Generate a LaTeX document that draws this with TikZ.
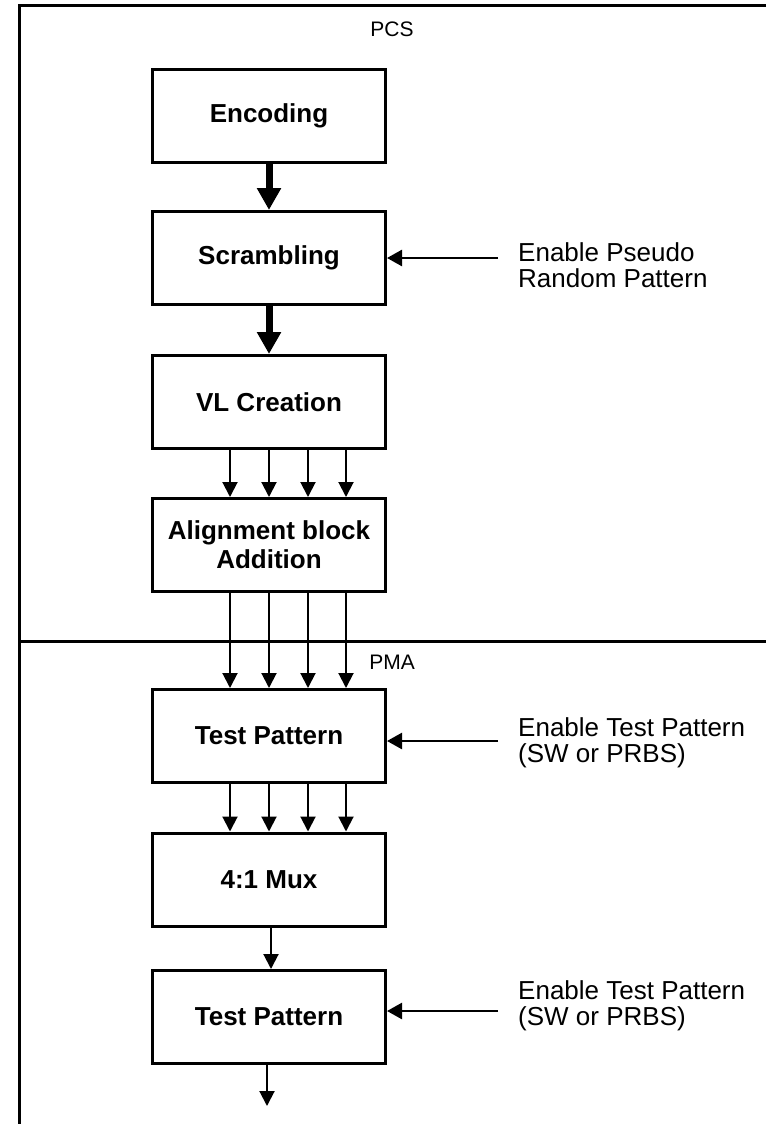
\documentclass[tikz,border=0pt]{standalone}
\usepackage{fontspec}
\setmainfont{Liberation Sans}
\usetikzlibrary{arrows.meta}
\tikzset{
  blk/.style={draw, line width=3pt, minimum width=233pt, minimum height=93pt, inner sep=0pt, align=center, font=\fontsize{26}{29}\selectfont\bfseries},
  sidelbl/.style={anchor=west, inner sep=0pt, align=left, font=\fontsize{26}{26}\selectfont},
  seclbl/.style={inner sep=0pt, font=\fontsize{21}{21}\selectfont},
  frameline/.style={line width=3pt},
  thickarr/.style={line width=7pt, -{Triangle[width=23pt,length=22pt]}},
  thinarr/.style={line width=2pt, -{Triangle[width=15pt,length=15pt]}},
  sidearr/.style={line width=2.5pt, -{Triangle[width=16pt,length=15pt]}}
}
\begin{document}
\begin{tikzpicture}[x=1pt,y=-1pt]
\useasboundingbox (0,0) rectangle (766,1124);
% frame
\coordinate (ftl) at (19,6);
\coordinate (ftr) at (766,6);
\coordinate (fbl) at (19,1124);
\coordinate (dl) at (19,641);
\coordinate (dr) at (766,641);
\draw[frameline] (ftr) -- (ftl) -- (fbl);
\draw[frameline] (dl) -- (dr);
\node[seclbl] (pcs) at (392,29) {PCS};
\node[seclbl] (pma) at (392,662) {PMA};
% blocks
\node[blk] (enc) at (269,116) {Encoding};
\node[blk] (scr) at (269,258) {Scrambling};
\node[blk] (vl)  at (269,402) {VL Creation};
\node[blk] (al)  at (269,545) {Alignment block\\Addition};
\node[blk] (tp1) at (269,736) {Test Pattern};
\node[blk] (mux) at (269,879.5) {4:1 Mux};
\node[blk] (tp2) at (269,1017) {Test Pattern};
% lane x positions
\coordinate (l1) at (230,0);
\coordinate (l2) at (269,0);
\coordinate (l3) at (308,0);
\coordinate (l4) at (346,0);
\coordinate (lm) at (271,0);
\coordinate (lo) at (267,0);
\coordinate (outend) at (267,1106);
% thick arrows
\draw[thickarr] (enc.south -| l2) -- (scr.north -| l2);
\draw[thickarr] (scr.south -| l2) -- (vl.north -| l2);
% four-lane arrows
\foreach \l in {l1,l2,l3,l4}{
  \draw[thinarr] (vl.south -| \l) -- (al.north -| \l);
  \draw[thinarr] (al.south -| \l) -- (tp1.north -| \l);
  \draw[thinarr] (tp1.south -| \l) -- (mux.north -| \l);
}
\draw[thinarr] (mux.south -| lm) -- (tp2.north -| lm);
\draw[thinarr] (tp2.south -| lo) -- (outend);
% side inputs
\coordinate (s1) at (498,258);
\coordinate (s2) at (498,741);
\coordinate (s3) at (498,1011);
\draw[sidearr] (s1) -- (s1 -| scr.east);
\draw[sidearr] (s2) -- (s2 -| tp1.east);
\draw[sidearr] (s3) -- (s3 -| tp2.east);
\node[sidelbl] (t1) at (518,265) {Enable Pseudo\\Random Pattern};
\node[sidelbl] (t2) at (518,743) {Enable Test Pattern\\(SW or PRBS)};
\node[sidelbl] (t3) at (518,1006) {Enable Test Pattern\\(SW or PRBS)};
\end{tikzpicture}
\end{document}
